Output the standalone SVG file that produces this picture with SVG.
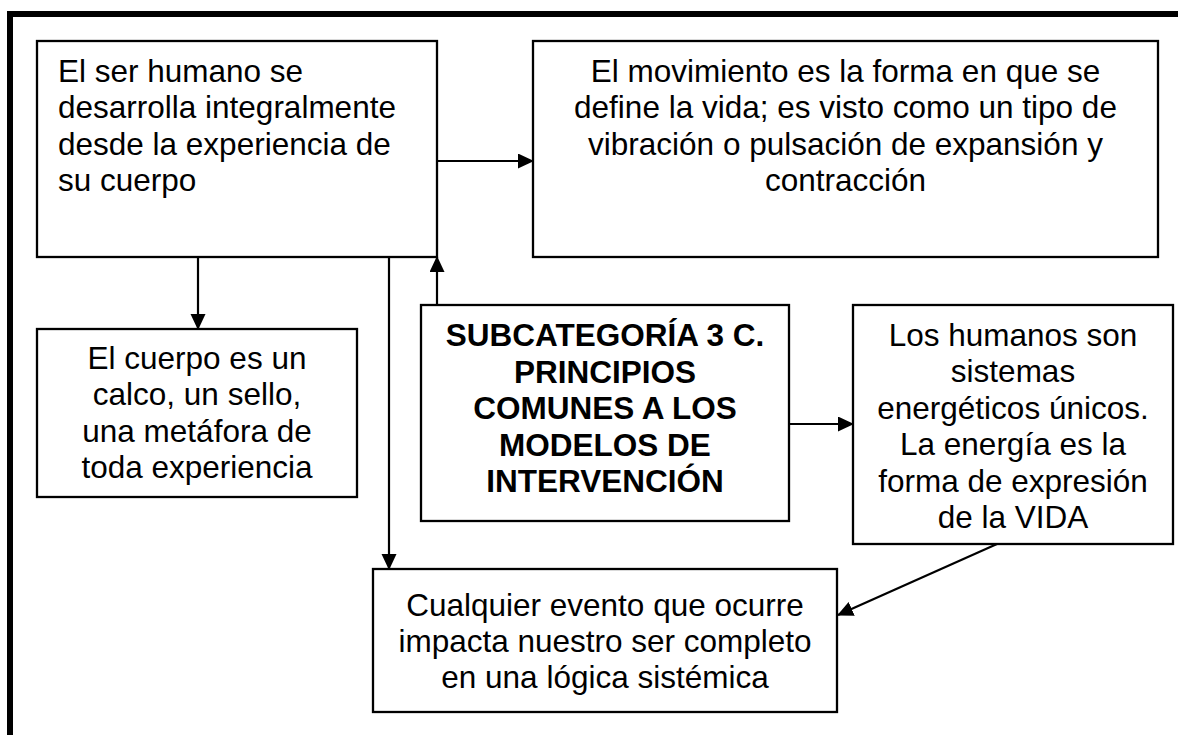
<svg xmlns="http://www.w3.org/2000/svg" width="1178" height="735" viewBox="0 0 1178 735">
<defs>
<style>
.box{fill:#fff;stroke:#000;stroke-width:2.3}
.t{font-family:"Liberation Sans",Arial,sans-serif;font-size:31.5px;fill:#000}
.c{text-anchor:middle}
.b{font-weight:bold}
.ln{stroke:#000;stroke-width:2.2;fill:none}
</style>
<marker id="ah" markerUnits="userSpaceOnUse" markerWidth="17" markerHeight="16" refX="15" refY="7.5" orient="auto">
<path d="M0,0 L16,7.5 L0,15 z" fill="#000"/>
</marker>
</defs>
<rect width="1178" height="735" fill="#fff"/>
<g id="frame">
<rect x="7" y="11" width="1171" height="6" fill="#000"/>
<rect x="7" y="11" width="6" height="724" fill="#000"/>
</g>
<g id="connectors">
<line class="ln" x1="437" y1="161" x2="533" y2="161" marker-end="url(#ah)"/>
<line class="ln" x1="198" y1="257" x2="198" y2="329" marker-end="url(#ah)"/>
<line class="ln" x1="389" y1="257" x2="389" y2="569" marker-end="url(#ah)"/>
<line class="ln" x1="437" y1="305" x2="437" y2="257" marker-end="url(#ah)"/>
<line class="ln" x1="789" y1="424" x2="853" y2="424" marker-end="url(#ah)"/>
<line class="ln" x1="997" y1="544" x2="838" y2="615" marker-end="url(#ah)"/>
</g>
<g id="n1">
<rect class="box" x="37" y="41" width="400" height="216"/>
<text class="t" x="58" y="82">El ser humano se</text>
<text class="t" x="58" y="118">desarrolla integralmente</text>
<text class="t" x="58" y="155">desde la experiencia de</text>
<text class="t" x="58" y="191">su cuerpo</text>
</g>
<g id="n2">
<rect class="box" x="533" y="41" width="625" height="216"/>
<text class="t c" x="845.5" y="82">El movimiento es la forma en que se</text>
<text class="t c" x="845.5" y="118">define la vida; es visto como un tipo de</text>
<text class="t c" x="845.5" y="155">vibración o pulsación de expansión y</text>
<text class="t c" x="845.5" y="191">contracción</text>
</g>
<g id="n3">
<rect class="box" x="37" y="329" width="320" height="168"/>
<text class="t c" x="197" y="369">El cuerpo es un</text>
<text class="t c" x="197" y="405">calco, un sello,</text>
<text class="t c" x="197" y="442">una metáfora de</text>
<text class="t c" x="197" y="478">toda experiencia</text>
</g>
<g id="n4">
<rect class="box" x="421" y="305" width="368" height="216"/>
<text class="t c b" x="605" y="346">SUBCATEGORÍA 3 C.</text>
<text class="t c b" x="605" y="383">PRINCIPIOS</text>
<text class="t c b" x="605" y="419">COMUNES A LOS</text>
<text class="t c b" x="605" y="456">MODELOS DE</text>
<text class="t c b" x="605" y="492">INTERVENCIÓN</text>
</g>
<g id="n5">
<rect class="box" x="853" y="305" width="320" height="239"/>
<text class="t c" x="1013" y="346">Los humanos son</text>
<text class="t c" x="1013" y="382">sistemas</text>
<text class="t c" x="1013" y="419">energéticos únicos.</text>
<text class="t c" x="1013" y="455">La energía es la</text>
<text class="t c" x="1013" y="492">forma de expresión</text>
<text class="t c" x="1013" y="528">de la VIDA</text>
</g>
<g id="n6">
<rect class="box" x="373" y="569" width="464" height="143"/>
<text class="t c" x="605" y="616">Cualquier evento que ocurre</text>
<text class="t c" x="605" y="652">impacta nuestro ser completo</text>
<text class="t c" x="605" y="688">en una lógica sistémica</text>
</g>
</svg>
